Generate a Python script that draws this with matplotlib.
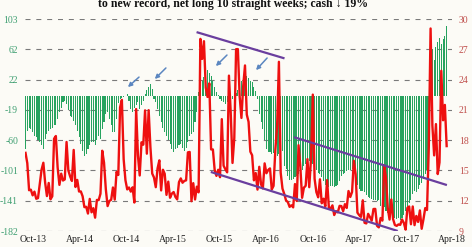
import matplotlib
matplotlib.use("Agg")
import matplotlib.pyplot as plt
import numpy as np
import pandas as pd

plt.rcParams['lines.scale_dashes'] = False

# ---------------- data ----------------
start_date = "2013-10-04"   # weekly (Friday) observations
n_weeks = 237

vix_close = [
    # 2013
    16.74, 15.72, 13.04, 13.09, 12.53, 12.90, 12.19, 12.26, 13.70, 15.08, 15.76, 13.79, 12.46,
    # 2014
    13.76, 12.14, 12.44, 18.14, 18.41, 15.29, 13.57, 14.68, 14.00, 14.11, 17.82, 15.00, 14.41,
    13.96, 17.03, 13.36, 14.06, 12.91, 12.92, 12.44, 11.36, 11.40, 10.73, 12.18, 10.85, 11.26,
    10.32, 12.08, 12.06, 12.69, 16.95, 15.77, 13.15, 11.47, 11.98, 12.09, 13.31, 12.11, 14.85,
    14.55, 21.24, 21.99, 16.11, 14.03, 13.12, 13.31, 12.90, 13.33, 11.82, 21.08, 16.49, 14.50,
    # 2015
    17.79, 17.55, 20.95, 16.66, 20.97, 17.29, 14.69, 14.30, 13.34, 15.20, 16.00, 13.02, 15.07,
    14.67, 12.58, 13.89, 12.29, 12.70, 12.86, 12.38, 12.13, 13.84, 14.21, 13.78, 13.96, 14.02,
    16.79, 16.83, 11.95, 13.74, 12.12, 13.39, 12.83, 28.03, 26.05, 27.80, 23.20, 22.28, 23.62,
    17.08, 17.08, 15.05, 14.46, 15.07, 14.33, 20.08, 15.47, 15.12, 14.81, 24.39, 20.70, 15.74,
    18.21,
    # 2016
    27.01, 27.02, 22.34, 20.20, 23.38, 25.40, 20.53, 19.81, 16.86, 16.50, 14.02, 14.74, 13.10,
    15.36, 13.62, 13.22, 15.70, 14.72, 15.04, 15.20, 13.12, 13.47, 17.03, 19.41, 25.76, 14.77,
    13.20, 12.67, 12.02, 11.87, 11.39, 11.55, 11.34, 13.65, 11.98, 17.50, 15.37, 12.29, 13.29,
    13.48, 16.12, 13.34, 16.19, 22.51, 14.17, 12.85, 12.34, 14.12, 11.75, 12.20, 11.44, 14.04,
    # 2017
    11.32, 11.23, 11.54, 10.58, 10.97, 10.85, 11.49, 11.47, 10.96, 11.66, 11.28, 12.96, 12.37,
    12.87, 15.96, 14.63, 10.82, 10.57, 10.40, 12.04, 9.81, 9.75, 10.70, 10.38, 10.02, 11.18,
    11.19, 9.51, 9.36, 10.29, 10.03, 15.51, 14.26, 11.28, 10.13, 12.12, 10.17, 9.59, 9.51,
    9.65, 9.61, 10.15, 9.80, 9.14, 11.29, 11.43, 9.67, 11.43, 9.58, 10.49, 9.90, 11.04,
    # 2018
    9.22, 10.16, 11.27, 11.08, 17.31, 29.06, 19.46, 16.49, 19.59, 14.64, 15.80, 24.87, 19.97,
    21.49, 17.41,
]

net_position_k = [
    -72, -47, -43, -45, -49, -54, -56, -60, -63, -67,
    -72, -58, -52, -47, -45, -43, -40, -40, -31, -22,
    -16, -9, -7, -11, -20, -27, -29, -34, -40, -47,
    -56, -65, -74, -81, -78, -72, -67, -63, -63, -67,
    -60, -54, -58, -45, -36, -25, -22, -31, -40, -49,
    -49, -31, -10, -5, -3, -2, -1, 2, -7, -18,
    -22, -16, -13, -9, -18, -13, -7, 2, 7, 11,
    16, 9, -4, -9, -18, -27, -36, -43, -49, -54,
    -60, -65, -72, -76, -72, -70, -67, -65, -70, -74,
    -70, -63, -54, -52, -49, -35, -22, 5, 12, 20,
    25, 32, 34, 30, 26, 20, 12, 5, 1, -4,
    -7, -9, -11, -9, -10, -7, -5, -3, 3, 8,
    14, 20, 24, 27, 26, 24, 20, 18, 12, 6,
    -5, -25, -35, -45, -60, -72, -76, -76, -78, -77,
    -80, -81, -78, -62, -75, -95, -98, -108, -114, -114,
    -112, -110, -108, -105, -104, -100, -95, -92, -90, -88,
    -90, -92, -96, -100, -104, -106, -110, -115, -120, -122,
    -123, -122, -122, -123, -122, -120, -115, -108, -105, -104,
    -102, -100, -100, -98, -102, -110, -120, -125, -128, -128,
    -130, -133, -136, -138, -139, -140, -140, -141, -140, -148,
    -152, -150, -155, -158, -160, -157, -162, -165, -166, -164,
    -167, -165, -160, -155, -150, -145, -140, -132, -128, -130,
    -125, -120, -118, -112, -105, -100, -90, 55, 62, 48,
    66, 72, 78, 70, 76, 80, 94,
]

x_tick_labels = ["Oct-13", "Apr-14", "Oct-14", "Apr-15", "Oct-15",
                 "Apr-16", "Oct-16", "Apr-17", "Oct-17", "Apr-18"]

left_ticks = np.linspace(-182, 103, 8)
right_ticks = np.linspace(9, 30, 8)

# trend-channel annotations (date, VIX level)
trend_lines = [
    (("2015-08-06", 28.7), ("2016-07-16", 26.1)),
    (("2015-10-01", 14.85), ("2017-10-03", 9.0)),
    (("2016-08-22", 18.3), ("2018-04-14", 13.55)),
]

title_text = "to new record, net long 10 straight weeks; cash \u2193 19%"

# ---------------- figure ----------------
dates = pd.date_range(start_date, periods=n_weeks, freq="7D")

bg = "#fcfbf6"
fig = plt.figure(figsize=(4.72, 2.47), dpi=100, facecolor=bg)
ax = fig.add_axes([25 / 472, 1 - 231 / 247, 427 / 472, 212 / 247])
ax.set_facecolor(bg)
ax2 = ax.twinx()

serif = ["Liberation Serif", "DejaVu Serif"]

ax.bar(dates, net_position_k, width=4.2, color="#27a35f", zorder=2)
ax2.plot(dates, vix_close, color="#ee1010", lw=1.7, zorder=3, solid_joinstyle="round")

for (d0, v0), (d1, v1) in trend_lines:
    ax2.plot([pd.Timestamp(d0), pd.Timestamp(d1)], [v0, v1],
             color="#6a3e9e", lw=1.6, zorder=4, solid_capstyle="butt")

ax.set_ylim(-182, 103)
ax2.set_ylim(9, 30)
ax.set_xlim(pd.Timestamp("2013-10-02"), pd.Timestamp("2018-04-14"))

ax.set_yticks(left_ticks)
ax.set_yticklabels([f"{v:.0f}" for v in left_ticks])
ax2.set_yticks(right_ticks)
ax2.set_yticklabels([f"{v:.0f}" for v in right_ticks])

tick_dates = pd.date_range("2013-10-04", periods=len(x_tick_labels), freq="6MS") + pd.Timedelta(days=3)
ax.set_xticks(tick_dates)
ax.set_xticklabels(x_tick_labels)

ax.grid(axis="y", color="#7a7a7a", lw=0.8, ls=(0, (3.6, 4.2)))
ax.set_axisbelow(True)

for a in (ax, ax2):
    for s in a.spines.values():
        s.set_visible(False)
    a.tick_params(length=0)

ax.tick_params(axis="y", colors="#3f9f72", labelsize=7, pad=5)
ax2.tick_params(axis="y", colors="#c0504d", labelsize=7, pad=5)
ax.tick_params(axis="x", colors="#222222", labelsize=7, pad=3)
for lab in ax.get_yticklabels() + ax2.get_yticklabels() + ax.get_xticklabels():
    lab.set_family(serif)

arrows = [
    ((0.267, 0.726), (0.241, 0.679)),
    ((0.330, 0.769), (0.304, 0.717)),
    ((0.473, 0.830), (0.447, 0.778)),
    ((0.567, 0.816), (0.541, 0.759)),
]
for tail, head in arrows:
    ax2.annotate("", xy=head, xytext=tail, xycoords="axes fraction",
                 textcoords="axes fraction",
                 arrowprops=dict(arrowstyle="-|>", color="#5b86c0", lw=1.1,
                                 mutation_scale=6, shrinkA=0, shrinkB=0),
                 zorder=5)

fig.text(0.494, 1 - 6.5 / 247, title_text, ha="center", va="baseline",
         fontsize=8.5, fontweight="bold", family=serif, color="#111111")

fig.savefig("out.png", dpi=100, facecolor=bg)
